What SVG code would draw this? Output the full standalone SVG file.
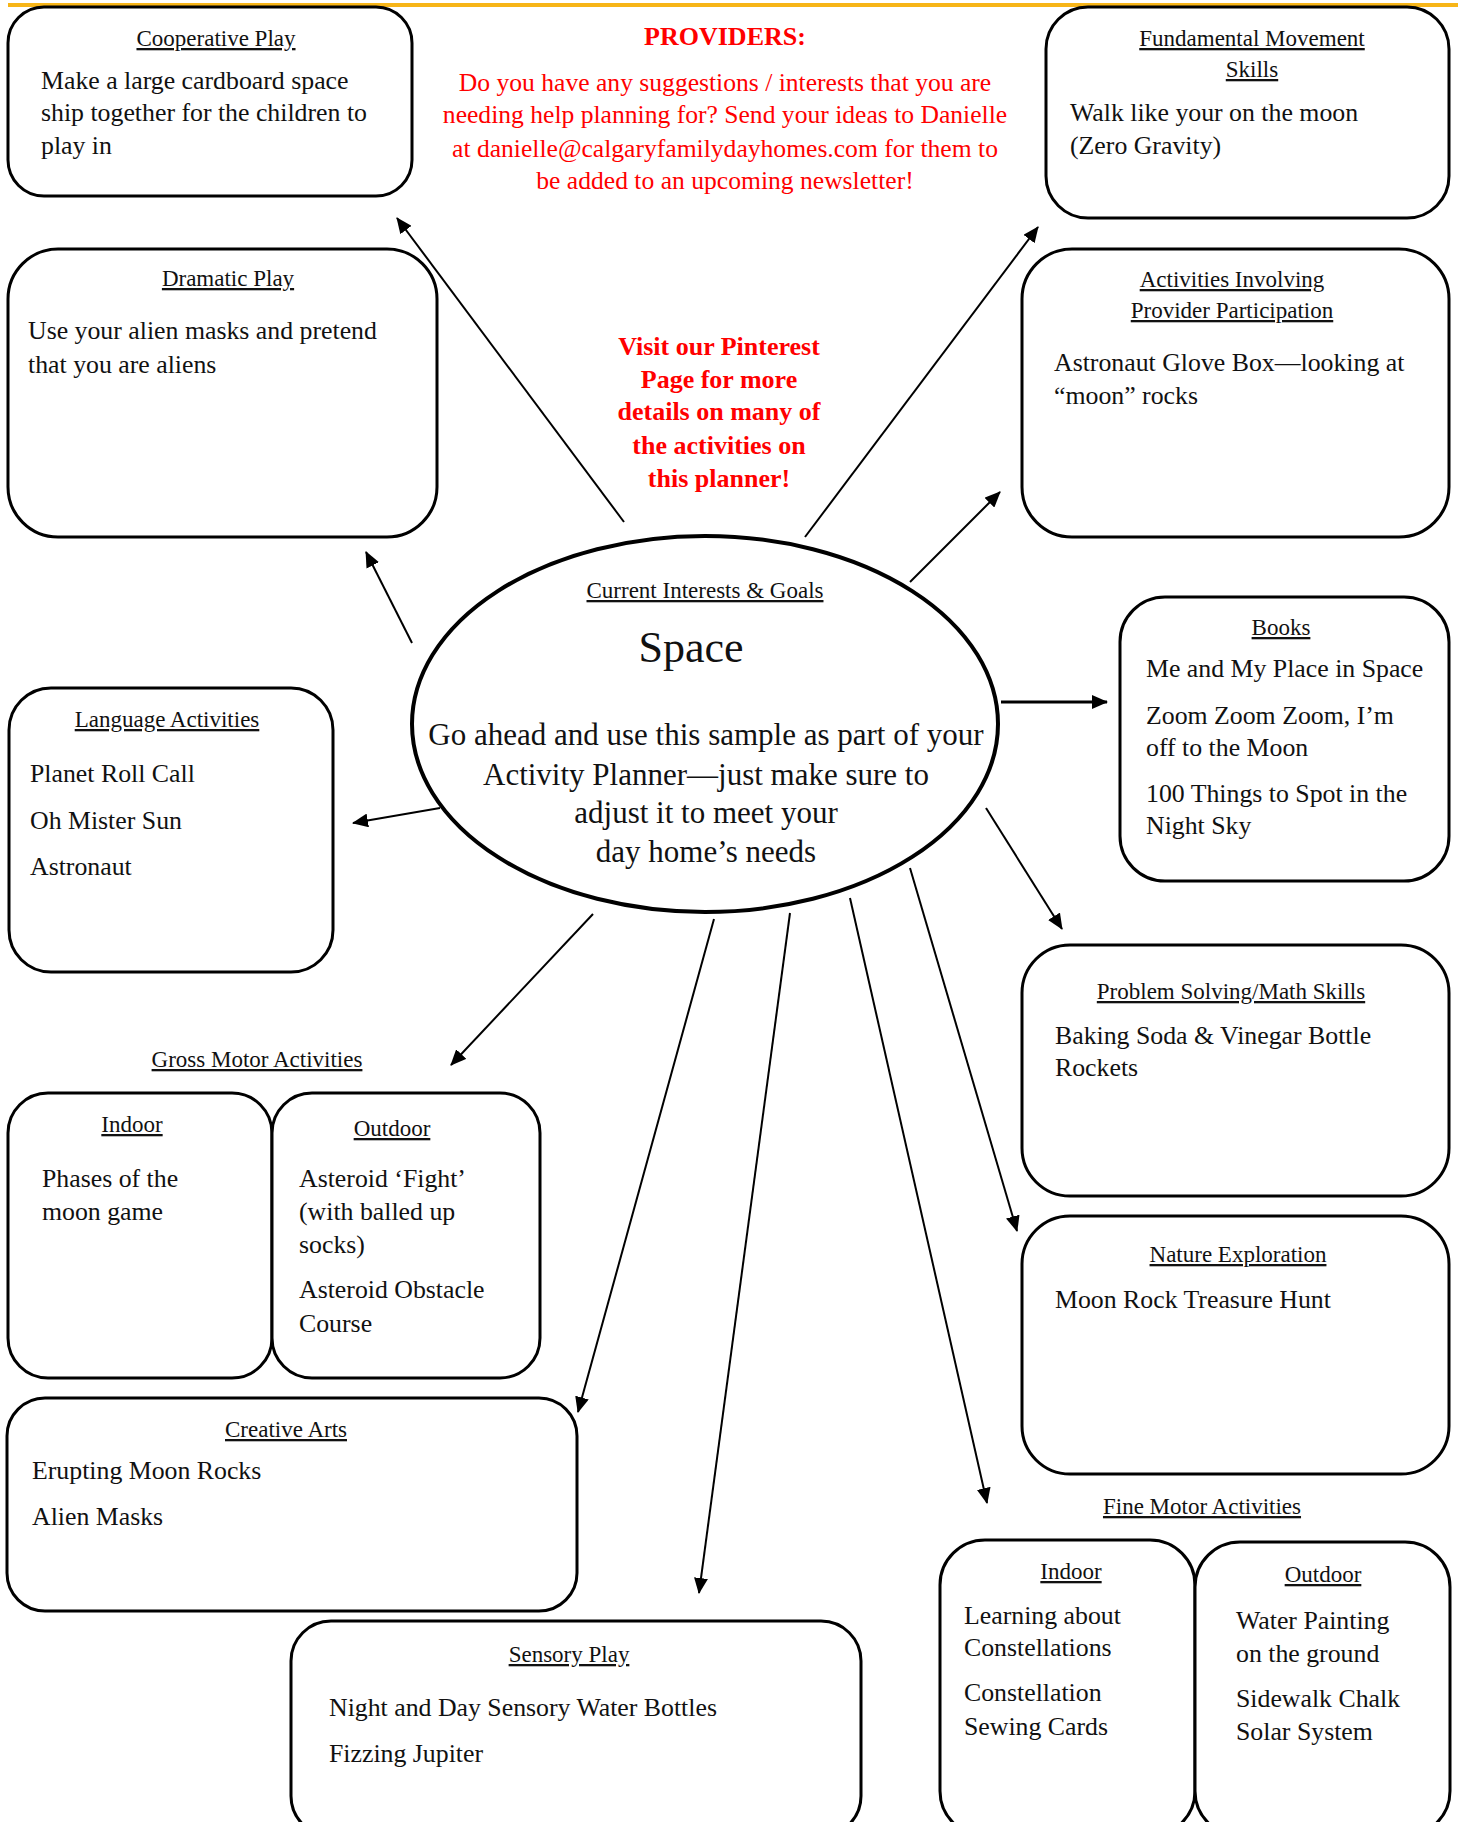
<svg xmlns="http://www.w3.org/2000/svg" width="1458" height="1822" viewBox="0 0 1458 1822">
<style>
  text { font-family: "Liberation Serif", "Times New Roman", serif; fill: #111; }
  .b { font-size: 25.8px; }
  .h { font-size: 23px; text-decoration: underline; text-anchor: middle; }
  .r { font-size: 25.6px; fill: #ff0000; text-anchor: middle; }
  .rb { font-size: 26px; fill: #ff0000; text-anchor: middle; font-weight: bold; }
  .e { font-size: 31px; text-anchor: middle; }
  .box { fill: #fff; stroke: #000; stroke-width: 3; }
  .arr { stroke: #000; stroke-width: 2; fill: none; marker-end: url(#ah); }
</style>
<defs>
  <marker id="ah" markerUnits="userSpaceOnUse" markerWidth="16" markerHeight="14" refX="15" refY="7" orient="auto">
    <path d="M0,0 L16,7 L0,14 z" fill="#000"/>
  </marker>
</defs>
<rect x="0" y="0" width="1458" height="1822" fill="#fff"/>
<line x1="8" y1="5" x2="1458" y2="5" stroke="#f7b518" stroke-width="4"/>

<g id="connectors">
  <line class="arr" x1="624" y1="522" x2="397" y2="218"/>
  <line class="arr" x1="412" y1="643" x2="366" y2="552"/>
  <line class="arr" x1="805" y1="537" x2="1038" y2="227"/>
  <line class="arr" x1="910" y1="582" x2="1000" y2="492"/>
  <line class="arr" x1="1001" y1="702" x2="1107" y2="702" style="stroke-width:3"/>
  <line class="arr" x1="440" y1="808" x2="353" y2="823"/>
  <line class="arr" x1="986" y1="808" x2="1062" y2="929"/>
  <line class="arr" x1="593" y1="914" x2="451" y2="1065"/>
  <line class="arr" x1="714" y1="919" x2="578" y2="1412"/>
  <line class="arr" x1="790" y1="913" x2="699" y2="1593"/>
  <line class="arr" x1="850" y1="898" x2="987" y2="1503"/>
  <line class="arr" x1="910" y1="868" x2="1017" y2="1231"/>
</g>

<g id="cooperative-play">
  <rect class="box" x="8" y="7" width="404" height="189" rx="36"/>
  <text class="h" x="216" y="46">Cooperative Play</text>
  <text class="b" x="41" y="89">Make a large cardboard space</text>
  <text class="b" x="41" y="121">ship together for the children to</text>
  <text class="b" x="41" y="154">play in</text>
</g>

<g id="providers-note">
  <text class="rb" x="725" y="45">PROVIDERS:</text>
  <text class="r" x="725" y="91">Do you have any suggestions / interests that you are</text>
  <text class="r" x="725" y="123">needing help planning for? Send your ideas to Danielle</text>
  <text class="r" x="725" y="157">at danielle@calgaryfamilydayhomes.com for them to</text>
  <text class="r" x="725" y="189">be added to an upcoming newsletter!</text>
</g>

<g id="fundamental-movement">
  <rect class="box" x="1046" y="7" width="403" height="211" rx="42"/>
  <text class="h" x="1252" y="46">Fundamental Movement</text>
  <text class="h" x="1252" y="77">Skills</text>
  <text class="b" x="1070" y="121">Walk like your on the moon</text>
  <text class="b" x="1070" y="154">(Zero Gravity)</text>
</g>

<g id="dramatic-play">
  <rect class="box" x="8" y="249" width="429" height="288" rx="50"/>
  <text class="h" x="228" y="286">Dramatic Play</text>
  <text class="b" x="28" y="339">Use your alien masks and pretend</text>
  <text class="b" x="28" y="373">that you are aliens</text>
</g>

<g id="pinterest-note">
  <text class="rb" x="719" y="355">Visit our Pinterest</text>
  <text class="rb" x="719" y="388">Page for more</text>
  <text class="rb" x="719" y="420">details on many of</text>
  <text class="rb" x="719" y="454">the activities on</text>
  <text class="rb" x="719" y="487">this planner!</text>
</g>

<g id="provider-participation">
  <rect class="box" x="1022" y="249" width="427" height="288" rx="50"/>
  <text class="h" x="1232" y="287">Activities Involving</text>
  <text class="h" x="1232" y="318">Provider Participation</text>
  <text class="b" x="1054" y="371">Astronaut Glove Box—looking at</text>
  <text class="b" x="1054" y="404">“moon” rocks</text>
</g>

<g id="current-interests">
  <ellipse cx="705" cy="724" rx="293" ry="188" fill="#fff" stroke="#000" stroke-width="4"/>
  <text class="h" x="705" y="598">Current Interests &amp; Goals</text>
  <text x="691" y="662" style="font-size:44px;text-anchor:middle">Space</text>
  <text class="e" x="706" y="745">Go ahead and use this sample as part of your</text>
  <text class="e" x="706" y="785">Activity Planner—just make sure to</text>
  <text class="e" x="706" y="823">adjust it to meet your</text>
  <text class="e" x="706" y="862">day home’s needs</text>
</g>

<g id="books">
  <rect class="box" x="1120" y="597" width="329" height="284" rx="45"/>
  <text class="h" x="1281" y="635">Books</text>
  <text class="b" x="1146" y="677">Me and My Place in Space</text>
  <text class="b" x="1146" y="724">Zoom Zoom Zoom, I’m</text>
  <text class="b" x="1146" y="756">off to the Moon</text>
  <text class="b" x="1146" y="802">100 Things to Spot in the</text>
  <text class="b" x="1146" y="834">Night Sky</text>
</g>

<g id="language-activities">
  <rect class="box" x="9" y="688" width="324" height="284" rx="42"/>
  <text class="h" x="167" y="727">Language Activities</text>
  <text class="b" x="30" y="782">Planet Roll Call</text>
  <text class="b" x="30" y="829">Oh Mister Sun</text>
  <text class="b" x="30" y="875">Astronaut</text>
</g>

<g id="problem-solving">
  <rect class="box" x="1022" y="945" width="427" height="251" rx="48"/>
  <text class="h" x="1231" y="999">Problem Solving/Math Skills</text>
  <text class="b" x="1055" y="1044">Baking Soda &amp; Vinegar Bottle</text>
  <text class="b" x="1055" y="1076">Rockets</text>
</g>

<g id="gross-motor">
  <text class="h" x="257" y="1067">Gross Motor Activities</text>
  <rect class="box" x="8" y="1093" width="264" height="285" rx="40"/>
  <rect class="box" x="272" y="1093" width="268" height="285" rx="40"/>
  <text class="h" x="132" y="1132">Indoor</text>
  <text class="b" x="42" y="1187">Phases of the</text>
  <text class="b" x="42" y="1220">moon game</text>
  <text class="h" x="392" y="1136">Outdoor</text>
  <text class="b" x="299" y="1187">Asteroid ‘Fight’</text>
  <text class="b" x="299" y="1220">(with balled up</text>
  <text class="b" x="299" y="1253">socks)</text>
  <text class="b" x="299" y="1298">Asteroid Obstacle</text>
  <text class="b" x="299" y="1332">Course</text>
</g>

<g id="nature-exploration">
  <rect class="box" x="1022" y="1216" width="427" height="258" rx="48"/>
  <text class="h" x="1238" y="1262">Nature Exploration</text>
  <text class="b" x="1055" y="1308">Moon Rock Treasure Hunt</text>
</g>

<g id="creative-arts">
  <rect class="box" x="7" y="1398" width="570" height="213" rx="38"/>
  <text class="h" x="286" y="1437">Creative Arts</text>
  <text class="b" x="32" y="1479">Erupting Moon Rocks</text>
  <text class="b" x="32" y="1525">Alien Masks</text>
</g>

<g id="sensory-play">
  <rect class="box" x="291" y="1621" width="570" height="215" rx="40"/>
  <text class="h" x="569" y="1662">Sensory Play</text>
  <text class="b" x="329" y="1716">Night and Day Sensory Water Bottles</text>
  <text class="b" x="329" y="1762">Fizzing Jupiter</text>
</g>

<g id="fine-motor">
  <text class="h" x="1202" y="1514">Fine Motor Activities</text>
  <rect class="box" x="940" y="1540" width="255" height="296" rx="45"/>
  <rect class="box" x="1195" y="1542" width="255" height="294" rx="45"/>
  <text class="h" x="1071" y="1579">Indoor</text>
  <text class="b" x="964" y="1624">Learning about</text>
  <text class="b" x="964" y="1656">Constellations</text>
  <text class="b" x="964" y="1701">Constellation</text>
  <text class="b" x="964" y="1735">Sewing Cards</text>
  <text class="h" x="1323" y="1582">Outdoor</text>
  <text class="b" x="1236" y="1629">Water Painting</text>
  <text class="b" x="1236" y="1662">on the ground</text>
  <text class="b" x="1236" y="1707">Sidewalk Chalk</text>
  <text class="b" x="1236" y="1740">Solar System</text>
</g>
</svg>
